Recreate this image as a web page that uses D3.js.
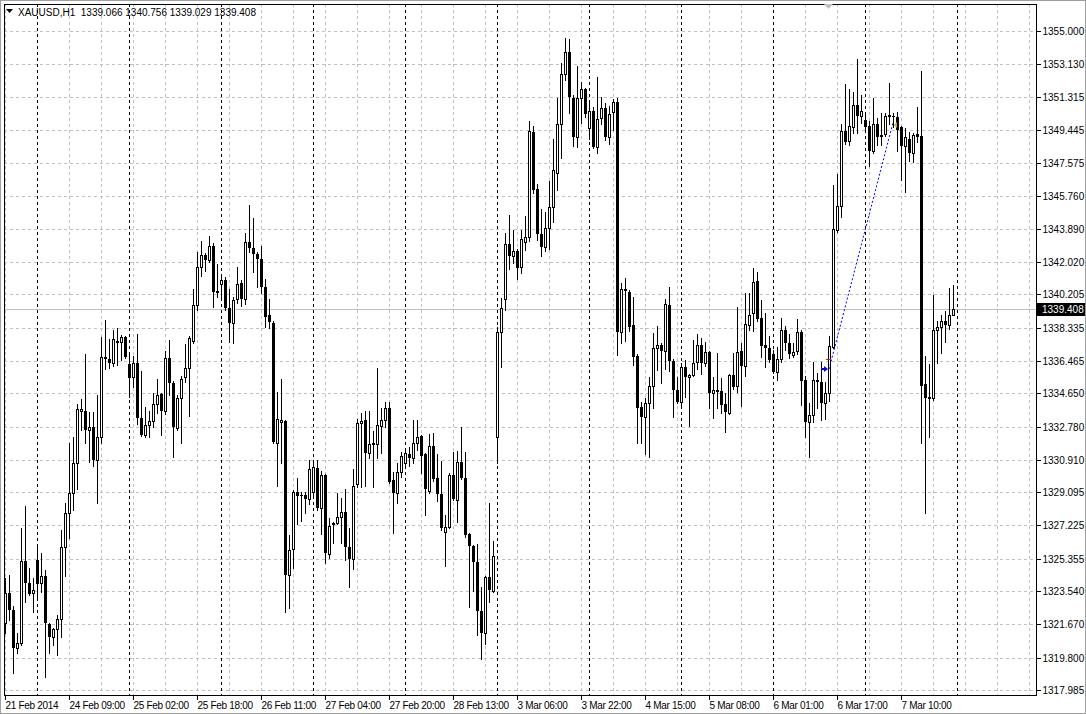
<!DOCTYPE html>
<html><head><meta charset="utf-8">
<script src="https://cdn.jsdelivr.net/npm/d3@7"></script>
<style>
html,body{margin:0;padding:0;background:#fff;overflow:hidden;}
svg{display:block;}
text{font-family:"Liberation Sans",Arial,sans-serif;font-size:10px;fill:#000;}
</style></head><body>
<svg id="c" width="1086" height="714"></svg>
<script>
const symbol = "XAUUSD,H1";
const opens = [1321.75,1323.43,1322.48,1320.34,1320.62,1325.23,1323.99,1323.43,1325.29,1323.99,1324.39,1321.69,1320.96,1321.41,1321.97,1326.02,1327.93,1329.05,1330.73,1333.66,1333.66,1332.59,1332.76,1330.90,1332.20,1336.69,1336.58,1336.35,1337.53,1337.53,1337.81,1336.30,1335.56,1336.35,1333.26,1332.31,1332.87,1333.09,1334.05,1334.61,1333.66,1336.63,1335.23,1332.70,1334.39,1335.56,1336.07,1337.59,1339.61,1341.74,1342.42,1342.14,1342.92,1340.40,1340.79,1341.01,1339.44,1338.60,1339.95,1340.84,1339.95,1343.15,1342.81,1342.47,1342.19,1340.62,1339.05,1338.60,1331.86,1333.04,1333.09,1324.44,1325.90,1329.11,1328.94,1328.94,1328.71,1329.11,1330.45,1328.21,1330.06,1325.62,1327.31,1327.36,1327.70,1327.98,1326.02,1325.34,1329.55,1332.98,1333.15,1331.30,1331.80,1331.80,1332.81,1333.15,1333.82,1329.78,1329.05,1330.23,1330.73,1331.24,1331.02,1331.86,1332.25,1331.24,1329.16,1331.69,1329.89,1329.00,1326.86,1327.14,1330.06,1328.66,1330.79,1329.89,1326.75,1326.07,1325.17,1322.42,1321.19,1324.33,1323.54,1332.20,1338.09,1339.95,1343.04,1342.36,1342.64,1341.74,1343.15,1343.43,1349.33,1346.12,1343.60,1342.87,1343.93,1345.11,1347.02,1349.78,1352.58,1353.82,1351.24,1349.05,1351.24,1351.74,1349.55,1350.51,1348.48,1350.11,1350.67,1349.05,1350.45,1351.01,1338.09,1340.51,1340.34,1338.49,1336.74,1333.88,1333.32,1334.10,1335.06,1337.19,1337.36,1337.03,1339.61,1336.46,1334.84,1334.16,1336.13,1335.56,1335.68,1336.41,1337.36,1336.35,1336.97,1334.67,1334.84,1334.78,1334.05,1333.54,1335.68,1335.06,1337.03,1336.18,1338.49,1339.16,1340.96,1338.88,1337.36,1337.19,1336.86,1335.85,1336.58,1338.21,1337.47,1336.80,1337.03,1338.09,1335.40,1333.04,1333.43,1335.40,1335.28,1334.10,1334.67,1337.25,1343.82,1345.17,1349.38,1348.82,1349.61,1350.84,1350.22,1350.00,1349.66,1348.26,1349.78,1349.18,1349.24,1350.22,1350.22,1350.17,1349.61,1348.54,1348.93,1348.15,1349.21,1349.10,1335.17,1334.39,1334.39,1338.21,1338.37,1338.71,1338.49,1339.066];
const highs = [1324.27,1324.44,1322.70,1321.19,1327.08,1328.32,1324.84,1324.27,1326.02,1325.68,1324.72,1321.75,1321.47,1322.20,1326.97,1328.49,1331.86,1332.20,1334.05,1334.33,1336.86,1333.60,1333.60,1334.55,1337.81,1338.77,1337.70,1338.21,1338.32,1337.93,1337.87,1336.80,1336.74,1337.98,1335.90,1333.88,1333.66,1334.67,1335.45,1334.67,1337.03,1337.64,1335.34,1334.55,1335.62,1337.42,1337.87,1340.51,1342.59,1343.20,1342.53,1343.48,1343.09,1341.91,1341.18,1341.18,1340.51,1340.06,1341.74,1341.01,1343.65,1345.23,1344.49,1342.59,1342.92,1341.07,1339.95,1338.71,1334.72,1335.45,1333.15,1326.69,1329.22,1329.89,1329.11,1329.11,1330.90,1330.90,1330.90,1330.29,1330.12,1327.65,1327.42,1329.05,1328.77,1329.27,1327.08,1330.40,1333.21,1333.54,1333.66,1333.66,1332.53,1336.07,1333.82,1334.16,1334.16,1330.23,1330.73,1331.35,1331.41,1331.63,1333.15,1333.15,1332.31,1331.30,1332.36,1332.42,1331.24,1330.85,1327.81,1330.17,1331.35,1331.41,1332.76,1331.35,1326.80,1326.13,1326.18,1323.77,1324.39,1328.49,1326.35,1338.37,1340.00,1343.65,1344.67,1343.82,1342.76,1343.82,1344.61,1349.95,1349.66,1346.41,1345.00,1344.83,1346.57,1348.93,1351.24,1353.20,1354.61,1354.55,1351.40,1353.03,1352.13,1351.80,1351.12,1350.73,1352.42,1351.29,1350.95,1350.79,1351.18,1351.24,1340.84,1341.13,1340.45,1340.06,1336.86,1334.16,1334.39,1335.56,1338.04,1338.43,1337.47,1339.95,1340.62,1336.58,1335.56,1336.35,1336.52,1335.73,1337.64,1337.98,1337.76,1337.53,1337.03,1335.56,1336.91,1335.51,1334.67,1335.73,1336.91,1339.50,1337.47,1340.28,1340.28,1341.69,1341.46,1339.89,1339.16,1337.87,1337.08,1337.25,1338.88,1338.43,1337.98,1337.47,1338.82,1338.21,1335.62,1334.10,1336.41,1335.79,1336.41,1335.28,1337.87,1346.35,1346.97,1349.78,1352.02,1351.74,1351.57,1353.43,1351.40,1350.45,1349.94,1351.24,1350.11,1350.39,1350.39,1352.08,1350.39,1350.45,1349.66,1349.55,1349.33,1349.27,1350.73,1352.75,1336.74,1336.30,1340.17,1338.71,1339.05,1339.27,1340.56,1340.756];
const lows = [1321.19,1321.92,1318.94,1320.06,1320.51,1322.93,1323.32,1322.37,1323.04,1323.49,1318.71,1320.06,1320.51,1319.95,1320.96,1324.39,1326.52,1328.09,1329.27,1332.59,1331.86,1330.79,1330.57,1328.49,1331.86,1336.02,1336.07,1336.18,1336.24,1336.52,1336.63,1334.44,1335.00,1332.92,1332.25,1332.20,1332.20,1332.76,1333.54,1332.31,1333.49,1334.55,1331.07,1332.59,1331.86,1335.28,1333.37,1337.47,1339.33,1341.24,1341.52,1342.03,1339.50,1340.06,1339.89,1339.33,1337.53,1337.47,1339.72,1339.55,1339.66,1342.59,1341.46,1340.62,1340.28,1338.37,1338.32,1331.86,1329.44,1330.73,1322.37,1322.59,1324.84,1327.31,1327.48,1327.93,1328.43,1328.82,1328.09,1326.75,1325.12,1325.40,1326.24,1327.31,1326.24,1325.29,1323.77,1324.78,1329.39,1329.39,1329.44,1331.02,1329.39,1331.02,1331.30,1332.76,1329.61,1326.80,1328.49,1329.95,1330.62,1330.57,1330.73,1331.47,1330.17,1327.81,1329.05,1329.72,1328.60,1326.97,1324.95,1327.08,1328.66,1327.42,1329.84,1326.58,1322.65,1323.54,1321.07,1319.72,1320.57,1322.95,1323.49,1330.73,1336.13,1339.33,1341.63,1341.97,1341.07,1341.41,1342.70,1343.20,1345.90,1343.26,1342.36,1342.64,1342.76,1344.27,1346.07,1347.87,1352.25,1350.39,1348.54,1348.48,1349.83,1350.17,1348.93,1348.43,1348.15,1349.78,1348.88,1348.65,1349.44,1336.80,1337.47,1337.59,1338.15,1336.24,1331.86,1331.86,1331.24,1331.07,1333.82,1335.96,1335.23,1336.02,1335.90,1333.32,1334.10,1333.88,1334.44,1332.81,1335.62,1336.02,1335.73,1336.18,1333.82,1333.26,1333.82,1333.54,1332.47,1333.49,1334.89,1334.72,1333.94,1335.62,1338.21,1338.15,1338.71,1336.69,1336.13,1336.41,1335.79,1335.40,1336.41,1337.08,1336.63,1336.69,1336.86,1333.99,1332.20,1331.07,1333.04,1333.82,1333.15,1333.21,1334.22,1337.19,1343.71,1344.55,1348.65,1348.60,1349.27,1349.27,1349.83,1349.44,1347.42,1348.15,1348.60,1348.60,1349.12,1349.78,1349.61,1348.26,1346.65,1345.98,1347.70,1347.64,1348.76,1331.86,1327.93,1332.20,1334.27,1336.35,1336.91,1337.53,1338.26,1339.029];
const closes = [1323.43,1322.48,1320.34,1320.62,1325.23,1323.99,1323.38,1323.60,1323.94,1324.39,1321.75,1320.96,1321.41,1321.97,1326.02,1327.93,1329.05,1330.73,1333.77,1333.77,1332.59,1332.76,1330.90,1332.20,1336.69,1336.58,1336.35,1337.70,1337.59,1337.81,1336.69,1335.51,1336.35,1333.26,1332.31,1332.87,1333.09,1334.05,1334.55,1333.66,1336.63,1335.23,1332.76,1334.39,1335.45,1336.07,1337.76,1339.61,1341.74,1342.42,1342.14,1342.92,1340.34,1340.28,1341.01,1339.44,1338.60,1339.89,1340.79,1339.95,1343.15,1342.81,1342.47,1342.19,1340.62,1338.94,1338.65,1331.91,1333.21,1333.15,1324.44,1325.85,1329.11,1328.88,1328.88,1328.71,1330.40,1330.51,1328.21,1330.06,1325.68,1327.20,1327.36,1327.70,1327.98,1326.02,1325.34,1329.44,1332.98,1333.09,1331.30,1331.80,1331.86,1332.87,1333.15,1333.82,1329.67,1329.05,1330.23,1331.13,1331.30,1331.02,1331.86,1332.20,1331.13,1329.27,1331.69,1329.84,1329.00,1327.08,1327.14,1330.06,1328.71,1330.79,1329.89,1326.69,1326.07,1325.17,1322.42,1321.19,1324.33,1323.60,1325.51,1338.09,1339.44,1343.04,1342.36,1342.64,1341.69,1343.32,1343.43,1349.38,1346.07,1343.60,1342.87,1343.93,1345.11,1347.19,1349.78,1352.58,1353.82,1351.29,1349.05,1351.24,1351.74,1350.34,1350.51,1348.48,1350.06,1350.67,1349.05,1350.34,1351.01,1338.09,1340.51,1340.40,1338.37,1336.69,1333.82,1333.32,1334.10,1335.06,1337.19,1337.36,1337.03,1339.66,1336.46,1334.84,1334.16,1336.13,1335.56,1335.68,1336.35,1337.36,1336.35,1336.97,1334.67,1334.84,1334.72,1333.99,1333.60,1335.68,1335.00,1336.97,1336.18,1338.54,1339.05,1340.90,1338.82,1337.31,1337.19,1336.52,1335.85,1336.58,1338.21,1337.47,1336.86,1336.97,1338.09,1335.34,1333.04,1333.43,1335.40,1335.28,1334.10,1334.67,1337.31,1343.88,1345.17,1349.38,1348.76,1349.66,1350.84,1350.22,1350.51,1349.61,1348.26,1349.78,1349.07,1349.07,1350.22,1350.28,1350.17,1349.44,1348.54,1349.05,1348.15,1349.16,1349.05,1335.06,1334.39,1334.44,1338.21,1338.37,1338.71,1338.49,1339.05,1339.408];
const priceTicks = [1355.000,1353.130,1351.315,1349.445,1347.575,1345.760,1343.890,1342.020,1340.205,1338.335,1336.465,1334.650,1332.780,1330.910,1329.095,1327.225,1325.355,1323.540,1321.670,1319.800,1317.985];
const timeLabelBars = [0,16,32,48,64,80,96,112,128,144,160,176,192,208,224];
const timeLabels = ["21 Feb 2014","24 Feb 09:00","25 Feb 02:00","25 Feb 18:00","26 Feb 11:00","27 Feb 04:00","27 Feb 20:00","28 Feb 13:00","3 Mar 06:00","3 Mar 22:00","4 Mar 15:00","5 Mar 08:00","6 Mar 01:00","6 Mar 17:00","7 Mar 10:00"];
const daySeparatorBars = [8,31,54,77,100,123,146,169,192,215,238];
const tradeOpen = {bar:206, price:1336.00};
const tradeClose = {bar:222, price:1349.85};
const stopMark = {bar:206, price:1336.60};

const svg = d3.select("#c");
const L = 4, R = 1036, T = 4, B = 695;
const n = closes.length;
const x = d3.scaleLinear().domain([0, n-1]).range([5, 5 + 4*(n-1)]);
const y = d3.scaleLinear().domain([1317.985, 1355.0]).range([690, 31]);
const py = v => Math.round(y(v));

// outer frame
svg.append("rect").attr("x",0.5).attr("y",0.5).attr("width",1085).attr("height",713)
  .attr("fill","#fff").attr("stroke","#a0a0a0");

const g = svg.append("g").attr("shape-rendering","crispEdges");

// horizontal grid
g.append("g").selectAll("line").data(priceTicks).join("line")
  .attr("x1",L).attr("x2",R).attr("y1",d=>py(d)+0.5).attr("y2",d=>py(d)+0.5)
  .attr("stroke","#c0c0c0").attr("stroke-dasharray","3,3");
// vertical grid every 8 bars
const gridBars = d3.range(0, 260, 8).filter(b => x(b) < R);
g.append("g").selectAll("line").data(gridBars).join("line")
  .attr("x1",d=>x(d)+0.5).attr("x2",d=>x(d)+0.5).attr("y1",T).attr("y2",B)
  .attr("stroke","#c0c0c0").attr("stroke-dasharray","3,3");
// day separators
g.append("g").selectAll("line").data(daySeparatorBars).join("line")
  .attr("x1",d=>x(d)+0.5).attr("x2",d=>x(d)+0.5).attr("y1",T).attr("y2",B)
  .attr("stroke","#000").attr("stroke-dasharray","3,3");

// current price line
const last = closes[n-1];
g.append("line").attr("x1",L).attr("x2",R).attr("y1",py(last)+0.5).attr("y2",py(last)+0.5)
  .attr("stroke","#c0c0c0");

// candles
const idx = d3.range(n);
const cg = g.append("g");
cg.selectAll("line.w").data(idx).join("line").attr("class","w")
  .attr("x1",i=>x(i)+0.5).attr("x2",i=>x(i)+0.5)
  .attr("y1",i=>py(highs[i])).attr("y2",i=>py(lows[i])+1)
  .attr("stroke","#000");
cg.selectAll("rect.b").data(idx).join("rect").attr("class","b")
  .each(function(i){
    const o = py(opens[i]), c = py(closes[i]);
    const top = Math.min(o,c), bot = Math.max(o,c);
    const s = d3.select(this);
    if (closes[i] >= opens[i]) {
      s.attr("x", x(i)-0.5).attr("y", top+0.5).attr("width",2).attr("height",Math.max(bot-top,0))
       .attr("fill","#fff").attr("stroke","#000");
    } else {
      s.attr("x", x(i)-1).attr("y", top).attr("width",3).attr("height",Math.max(bot-top,1))
       .attr("fill","#000");
    }
  });

// trade markers
svg.append("line")
  .attr("x1",x(tradeOpen.bar)).attr("y1",y(tradeOpen.price))
  .attr("x2",x(tradeClose.bar)).attr("y2",y(tradeClose.price))
  .attr("stroke","#0000ff").attr("stroke-dasharray","2,2");
svg.append("path")
  .attr("d",`M${x(tradeOpen.bar)-8},${py(tradeOpen.price)-1}h3v-2l4,3l-4,3v-2h-3z`)
  .attr("fill","#0000ff");
svg.append("line").attr("x1",x(stopMark.bar)-3).attr("x2",x(stopMark.bar)+2)
  .attr("y1",py(stopMark.price)+0.5).attr("y2",py(stopMark.price)+0.5).attr("stroke","#ff0000");
svg.append("path")
  .attr("d",`M${x(tradeClose.bar)+1},${py(tradeClose.price)+2}l3,-3l0,6z`)
  .attr("fill","#daa520");

// plot frame
g.append("rect").attr("x",L+0.5).attr("y",T+0.5).attr("width",R-L).attr("height",B-T)
  .attr("fill","none").attr("stroke","#000");

// right axis
const ay = svg.append("g").attr("transform",`translate(${R+0.5},0)`)
  .call(d3.axisRight(y).tickValues(priceTicks).tickSize(4).tickPadding(2).tickFormat(d3.format(".3f")));
ay.select(".domain").remove();
ay.selectAll(".tick").attr("transform", d=>`translate(0,${py(d)+0.5})`);
ay.selectAll("line").attr("stroke","#000").attr("shape-rendering","crispEdges");
ay.selectAll("text").attr("font-family",null).attr("font-size",null).attr("fill","#000").attr("dy","0.35em");

// current price tag
svg.append("rect").attr("x",R+1).attr("y",py(last)-6).attr("width",48).attr("height",13).attr("fill","#000");
svg.append("text").attr("x",R+6).attr("y",py(last)+4).attr("fill","#fff").style("fill","#fff").text(last.toFixed(3));

// bottom axis
const ax = svg.append("g").attr("transform",`translate(0,${B+0.5})`)
  .call(d3.axisBottom(x).tickValues(timeLabelBars).tickSize(4).tickFormat((d,i)=>timeLabels[i]));
ax.select(".domain").remove();
ax.selectAll(".tick").attr("transform", d=>`translate(${x(d)+0.5},0)`);
ax.selectAll("line").attr("stroke","#000").attr("shape-rendering","crispEdges");
ax.selectAll("text").attr("font-family",null).attr("font-size",null).attr("fill","#000")
  .attr("text-anchor","start").attr("x",0).attr("y",4).attr("dy","0.9em")
  .style("letter-spacing","-0.3px");

// header
svg.append("path").attr("d","M6,9h7l-3.5,4z").attr("fill","#000");
svg.append("text").attr("x",18).attr("y",16).style("white-space","pre")
  .text(`${symbol}  ${opens[n-1].toFixed(3)} ${highs[n-1].toFixed(3)} ${lows[n-1].toFixed(3)} ${closes[n-1].toFixed(3)}`);

// chart shift marker
svg.append("path").attr("d","M824,4h9l-4.5,5z").attr("fill","#c0c0c0");
</script>
</body></html>
